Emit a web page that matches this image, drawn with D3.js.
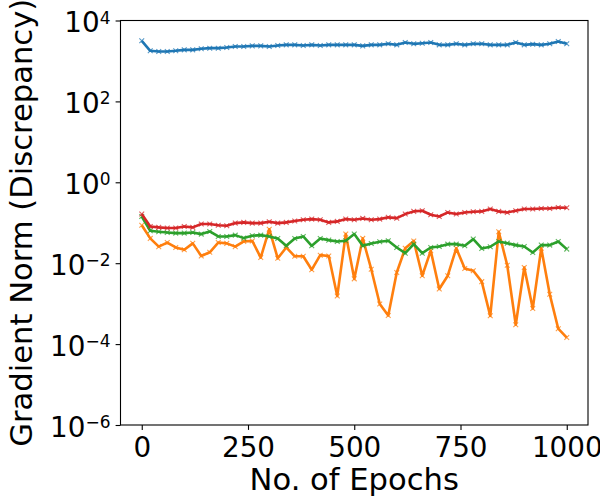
<!DOCTYPE html>
<html>
<head>
<meta charset="utf-8">
<script src="https://cdn.jsdelivr.net/npm/d3@7"></script>
<style>
  body { margin: 0; background: #fff; }
  text { font-family: 'DejaVu Sans', sans-serif; fill: #000; }
</style>
</head>
<body>
<svg id="chart" width="600" height="500"></svg>
<script>
// epochs, one point every 20
const epochs = d3.range(0, 1001, 20);

const blueSeries = [3150, 1780, 1710, 1710, 1780, 1880, 1880, 2000, 2070, 2070,
  2150, 2280, 2280, 2360, 2360, 2280, 2410, 2500, 2500, 2410,
  2500, 2410, 2500, 2500, 2500, 2500, 2360, 2500, 2500, 2650,
  2500, 2860, 2650, 2750, 2860, 2500, 2500, 2650, 2500, 2650,
  2650, 2500, 2500, 2500, 2860, 2500, 2600, 2500, 2650, 3030, 2650];

const orangeSeries = [0.087, 0.041, 0.0257, 0.0324, 0.0245, 0.0214, 0.0309, 0.0151, 0.0186, 0.0324,
  0.0309, 0.0257, 0.0347, 0.0355, 0.0138, 0.0692, 0.0132, 0.0245, 0.0148, 0.0148,
  0.0069, 0.0158, 0.0151, 0.00155, 0.0525, 0.0041, 0.041, 0.0071, 0.00098, 0.00051,
  0.0059, 0.0234, 0.0355, 0.0049, 0.0204, 0.0023, 0.0049, 0.0234, 0.0074, 0.0065,
  0.0035, 0.0005, 0.060, 0.0089, 0.0003, 0.0078, 0.00076, 0.0234, 0.0017, 0.00024, 0.000145];

const greenSeries = [0.143, 0.0634, 0.0598, 0.0576, 0.0555, 0.0555, 0.0576, 0.0524, 0.061, 0.0458,
  0.0458, 0.0494, 0.0417, 0.0476, 0.0494, 0.0458, 0.0409, 0.0269, 0.0409, 0.0458,
  0.0269, 0.0409, 0.0372, 0.0345, 0.0358, 0.0524, 0.0269, 0.0308, 0.0338, 0.0358,
  0.0245, 0.0177, 0.0296, 0.0177, 0.0245, 0.0259, 0.0296, 0.0296, 0.0269, 0.0394,
  0.0231, 0.0255, 0.0345, 0.0313, 0.028, 0.0259, 0.0184, 0.028, 0.028, 0.0345, 0.0223];

const redSeries = [0.164, 0.081, 0.077, 0.074, 0.074, 0.081, 0.077, 0.093, 0.093, 0.087,
  0.084, 0.098, 0.102, 0.098, 0.098, 0.106, 0.098, 0.102, 0.110, 0.119,
  0.123, 0.119, 0.102, 0.108, 0.123, 0.119, 0.128, 0.119, 0.123, 0.136,
  0.130, 0.164, 0.191, 0.198, 0.158, 0.143, 0.180, 0.164, 0.180, 0.187,
  0.191, 0.218, 0.191, 0.180, 0.198, 0.218, 0.218, 0.226, 0.226, 0.239, 0.235];

const seriesColors = ['#1f77b4', '#ff7f0e', '#2ca02c', '#d62728'];

const xTicks = [0, 250, 500, 750, 1000];
const yTickExponents = [-6, -4, -2, 0, 2, 4];

const svg = d3.select('#chart');
const plot = { left: 120.5, right: 588, top: 20.5, bottom: 425 };

const xScale = d3
  .scaleLinear()
  .domain([-50, 1050])
  .range([plot.left, plot.right]);

const yScale = d3
  .scaleLog()
  .domain([1e-6, 1e4])
  .range([plot.bottom, plot.top]);

const allSeries = [blueSeries, orangeSeries, greenSeries, redSeries];

const line = d3
  .line()
  .x((d, i) => xScale(epochs[i]))
  .y(d => yScale(d));

const clip = svg.append('clipPath').attr('id', 'clip');
clip
  .append('rect')
  .attr('x', plot.left)
  .attr('y', plot.top)
  .attr('width', plot.right - plot.left)
  .attr('height', plot.bottom - plot.top);

const marks = svg.append('g').attr('clip-path', 'url(#clip)');

allSeries.forEach((values, k) => {
  const g = marks.append('g');
  g.append('path')
    .datum(values)
    .attr('fill', 'none')
    .attr('stroke', seriesColors[k])
    .attr('stroke-width', 2.6)
    .attr('stroke-linejoin', 'round')
    .attr('d', line);

  const m = 2.4;
  g.selectAll('path.marker')
    .data(values)
    .enter()
    .append('path')
    .classed('marker', true)
    .attr('stroke', seriesColors[k])
    .attr('stroke-width', 1.1)
    .attr('stroke-opacity', 0.75)
    .attr('d', (d, i) => {
      const cx = xScale(epochs[i]);
      const cy = yScale(d);
      return 'M' + (cx - m) + ',' + (cy - m) + 'L' + (cx + m) + ',' + (cy + m) +
        'M' + (cx - m) + ',' + (cy + m) + 'L' + (cx + m) + ',' + (cy - m);
    });
});

// frame
svg
  .append('rect')
  .attr('x', plot.left)
  .attr('y', plot.top)
  .attr('width', plot.right - plot.left)
  .attr('height', plot.bottom - plot.top)
  .attr('fill', 'none')
  .attr('stroke', '#000')
  .attr('stroke-width', 1.1);

const xAxis = d3
  .axisBottom(xScale)
  .tickValues(xTicks)
  .tickSize(4.9)
  .tickSizeOuter(0)
  .tickPadding(4.9)
  .tickFormat(d3.format('d'));

const gx = svg
  .append('g')
  .attr('transform', 'translate(0,' + plot.bottom + ')')
  .call(xAxis);
gx.select('.domain').remove();
gx.selectAll('.tick line').attr('stroke-width', 1.1);
gx.selectAll('.tick text')
  .attr('font-size', '27.8px')
  .attr('dy', null)
  .attr('y', 32);

const yAxis = d3
  .axisLeft(yScale)
  .tickValues(yTickExponents.map(e => Math.pow(10, e)))
  .tickSize(4.9)
  .tickSizeOuter(0)
  .tickPadding(4.9)
  .tickFormat(() => '');

const gy = svg
  .append('g')
  .attr('transform', 'translate(' + plot.left + ',0)')
  .call(yAxis);
gy.select('.domain').remove();
gy.selectAll('.tick line').attr('stroke-width', 1.1);

gy.selectAll('.tick text').each(function(d) {
  const e = Math.round(Math.log10(d));
  const t = d3
    .select(this)
    .attr('x', -10)
    .attr('dy', null)
    .attr('y', 11)
    .attr('text-anchor', 'end')
    .attr('font-size', '27.8px');
  t.append('tspan').text('10');
  t.append('tspan')
    .attr('font-size', '17px')
    .attr('dy', -8.5)
    .text(e < 0 ? '\u2212' + Math.abs(e) : String(e));
});

svg
  .append('text')
  .attr('x', (plot.left + plot.right) / 2)
  .attr('y', 490)
  .attr('text-anchor', 'middle')
  .style('font-size', '30.6px')
  .text('No. of Epochs');

svg
  .append('text')
  .attr('transform', 'translate(32,' + (plot.top + plot.bottom) / 2 + ') rotate(-90)')
  .attr('text-anchor', 'middle')
  .style('font-size', '30.6px')
  .text('Gradient Norm (Discrepancy)');
</script>
</body>
</html>
